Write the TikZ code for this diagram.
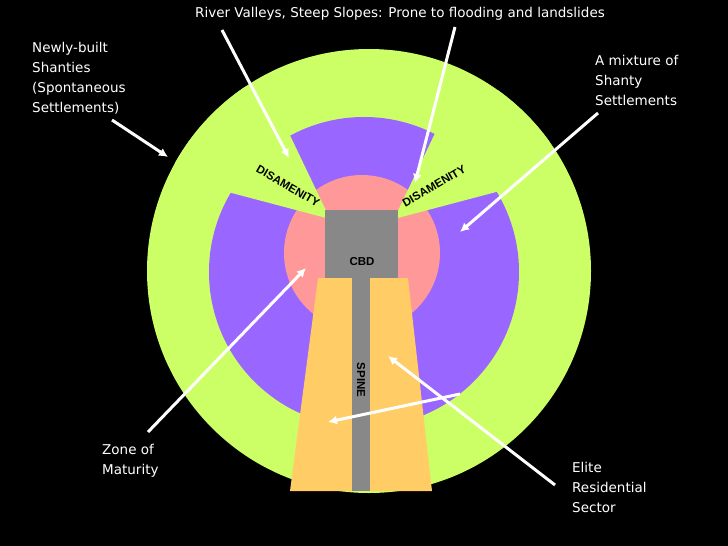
\documentclass[tikz,border=0pt]{standalone}
\usepackage{fontspec}
\setmainfont{DejaVu Sans}
\setsansfont{Liberation Sans}
\definecolor{grn}{HTML}{CCFF66}
\definecolor{pur}{HTML}{9966FF}
\definecolor{pnk}{HTML}{FF9999}
\definecolor{yel}{HTML}{FFCC66}
\definecolor{gry}{HTML}{888888}
\begin{document}
\begin{tikzpicture}[x=1pt,y=-1pt,
  lbl/.style={text=white,font=\fontsize{13.5}{20}\selectfont,align=left,inner sep=0pt},
  arr/.style={white,line width=3pt,-{Latex[length=9pt,width=9pt]}},
  dis/.style={font=\sffamily\bfseries\fontsize{11.5}{11.5}\selectfont,inner sep=0pt}]
\usetikzlibrary{arrows.meta}
\fill[black] (0,0) rectangle (728,546);
\useasboundingbox (0,0) rectangle (728,546);
\fill[grn] (369,271) circle (222);
\fill[pur] (364,272) circle (155);
\fill[pnk] (362,253) circle (78);
\begin{scope}
\clip (369,271) circle (222);
\fill[grn] (330,219)--(265,83)--(175,100)--(175,178)--cycle;
\fill[grn] (394,219)--(459,83)--(549,100)--(549,178)--cycle;
\end{scope}
\fill[yel] (318,278)--(408,278)--(432,491)--(290,491)--cycle;
\fill[gry] (352,278) rectangle (370,491);
\node[fill=gry,minimum width=73pt,minimum height=68pt,inner sep=0pt] (cbd) at (361.5,244) {};
\node[dis] at (362,262) {CBD};
\node[dis,rotate=-90] (spine) at (361,380) {SPINE};
\node[dis,rotate=-30] (d1) at (288,186) {DISAMENITY};
\node[dis,rotate=30] (d2) at (434,186) {DISAMENITY};
\node[lbl,anchor=center] (t) at (400,14) {River Valleys, Steep Slopes: Prone to flooding and landslides};
\node[lbl,anchor=north west] (ns) at (32,42) {Newly-built\\Shanties\\(Spontaneous\\Settlements)};
\node[lbl,anchor=north west] (mx) at (595,55) {A mixture of\\Shanty\\Settlements};
\node[lbl,anchor=north west] (zm) at (102,444) {Zone of\\Maturity};
\node[lbl,anchor=north west] (el) at (572,462) {Elite\\Residential\\Sector};
\coordinate (a1s) at (222,30); \coordinate (a1e) at (289,158);
\coordinate (a2s) at (455,27); \coordinate (a2e) at (415,183);
\coordinate (a3s) at (112,120); \coordinate (a3e) at (168,157);
\coordinate (a4s) at (598,113); \coordinate (a4e) at (460,232);
\coordinate (a5s) at (148,432); \coordinate (a5e) at (306,268);
\coordinate (a6s) at (555,485); \coordinate (a6e) at (388,356);
\coordinate (a7s) at (460,394); \coordinate (a7e) at (328,422);
\draw[arr] (a1s)--(a1e);
\draw[arr] (a2s)--(a2e);
\draw[arr] (a3s)--(a3e);
\draw[arr] (a4s)--(a4e);
\draw[arr] (a5s)--(a5e);
\draw[arr] (a6s)--(a6e);
\draw[arr] (a7s)--(a7e);
\end{tikzpicture}
\end{document}
